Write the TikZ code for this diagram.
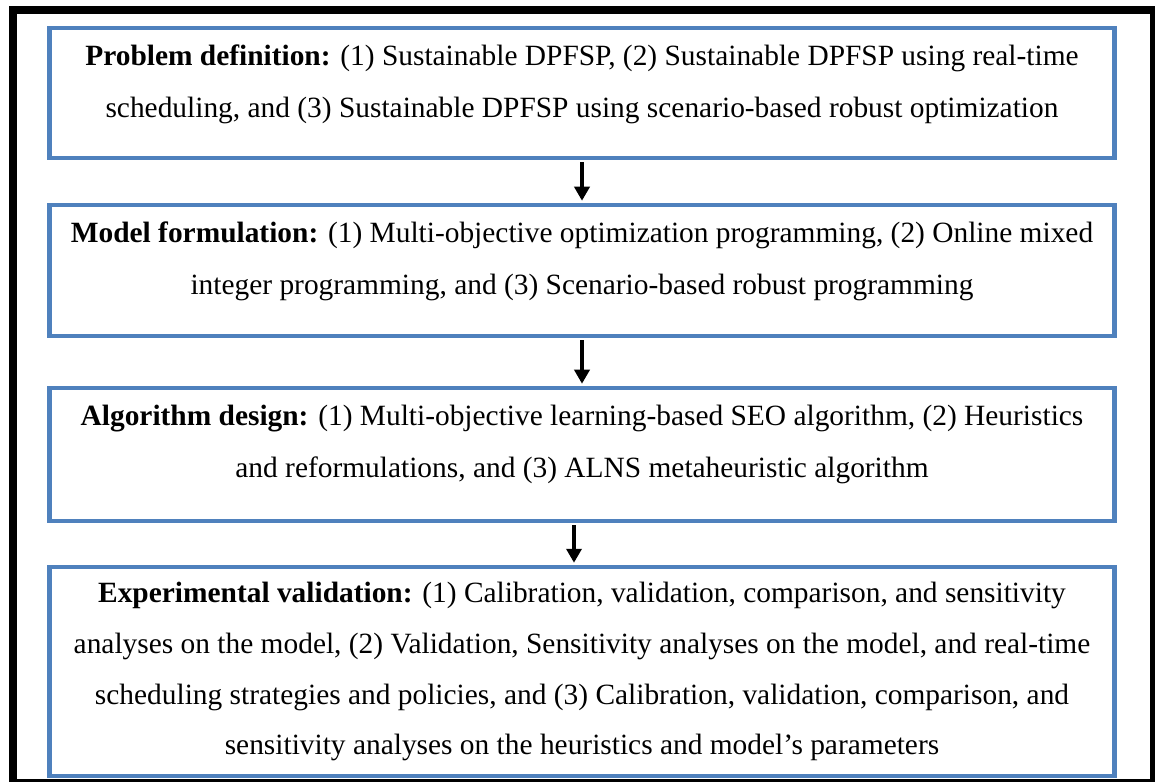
\documentclass[tikz,border=0pt]{standalone}
\usepackage{fontspec}
\setmainfont{Liberation Serif}
\usetikzlibrary{arrows.meta,calc}
\definecolor{boxblue}{HTML}{4F81BD}
\begin{document}
\begin{tikzpicture}[x=1pt,y=-1pt,
  stage/.style={draw=boxblue, line width=4.5pt, fill=white, inner sep=0pt,
                minimum width=1065pt},
  txt/.style={anchor=base, inner sep=0pt, font=\fontsize{29.4}{34}\selectfont},
  arr/.style={draw=black, line width=4pt, -{Triangle[width=15pt,length=14pt]}}]
\useasboundingbox (0,0) rectangle (1157,783);
% outer frame
\fill[black] (9,6) rectangle (1155,782);
\fill[white] (17,14) rectangle (1150,779);

% stage boxes
\node[stage, minimum height=130pt] (b1) at (582,93) {};
\node[stage, minimum height=131pt] (b2) at (582,270.5) {};
\node[stage, minimum height=133pt] (b3) at (582,454.5) {};
\node[stage, minimum height=209pt] (b4) at (582,671.5) {};

% texts
\node[txt] (t11) at ($(b1.north)+(0,40)$) {\textbf{Problem definition:} (1) Sustainable DPFSP, (2) Sustainable DPFSP using real-time};
\node[txt] (t12) at ($(b1.north)+(0,92)$) {scheduling, and (3) Sustainable DPFSP using scenario-based robust optimization};

\node[txt] (t21) at ($(b2.north)+(0,40)$) {\textbf{Model formulation:} (1) Multi-objective optimization programming, (2) Online mixed};
\node[txt] (t22) at ($(b2.north)+(0,92)$) {integer programming, and (3) Scenario-based robust programming};

\node[txt] (t31) at ($(b3.north)+(0,40)$) {\textbf{Algorithm design:} (1) Multi-objective learning-based SEO algorithm, (2) Heuristics};
\node[txt] (t32) at ($(b3.north)+(0,92)$) {and reformulations, and (3) ALNS metaheuristic algorithm};

\node[txt] (t41) at ($(b4.north)+(0,38)$) {\textbf{Experimental validation:} (1) Calibration, validation, comparison, and sensitivity};
\node[txt] (t42) at ($(b4.north)+(0,89)$) {analyses on the model, (2) Validation, Sensitivity analyses on the model, and real-time};
\node[txt] (t43) at ($(b4.north)+(0,140)$) {scheduling strategies and policies, and (3) Calibration, validation, comparison, and};
\node[txt] (t44) at ($(b4.north)+(0,190)$) {sensitivity analyses on the heuristics and model’s parameters};

% connectors
\draw[arr] ($(b1.south)+(0,2)$) -- ($(b2.north)+(0,-2)$);
\draw[arr] ($(b2.south)+(0,2)$) -- ($(b3.north)+(0,-2)$);
\draw[arr] ($(b3.south)+(-8,2)$) -- ($(b4.north)+(-8,-2)$);
\end{tikzpicture}
\end{document}
